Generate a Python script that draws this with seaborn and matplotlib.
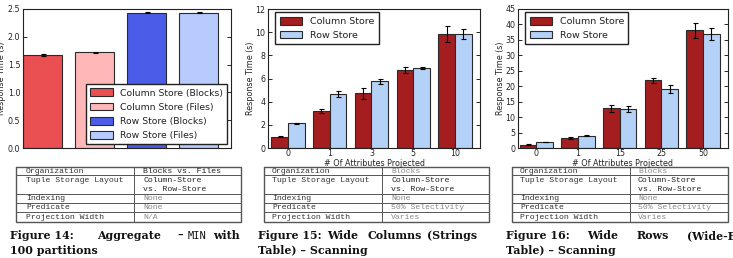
import matplotlib
matplotlib.use("Agg")
import matplotlib.pyplot as plt
from matplotlib.ticker import FormatStrFormatter
import seaborn as sns
import pandas as pd

# ---------------- data ----------------
agg_configs = ["Column Store (Blocks)", "Column Store (Files)", "Row Store (Blocks)", "Row Store (Files)"]
agg_times = [1.67, 1.72, 2.435, 2.435]
agg_errs = [0.012, 0.012, 0.004, 0.004]

stores = ["Column Store", "Row Store"]

wc_attrs = ["0", "1", "3", "5", "10"]
wc_col = [0.98, 3.21, 4.71, 6.71, 9.83]
wc_col_err = [0.04, 0.16, 0.50, 0.25, 0.72]
wc_row = [2.14, 4.63, 5.75, 6.91, 9.83]
wc_row_err = [0.03, 0.27, 0.23, 0.12, 0.45]

wr_attrs = ["0", "1", "15", "25", "50"]
wr_col = [1.08, 3.10, 12.8, 21.9, 38.1]
wr_col_err = [0.12, 0.30, 1.0, 0.8, 2.5]
wr_row = [1.95, 4.00, 12.6, 19.0, 36.9]
wr_row_err = [0.10, 0.20, 1.0, 1.3, 1.8]

y_label = "Response Time (s)"
x_label = "# Of Attributes Projected"

table_keys = ["Organization", "Tuple Storage Layout", "Indexing", "Predicate", "Projection Width"]
fig14_vals = ["Blocks vs. Files", "Column-Store\nvs. Row-Store", "None", "None", "N/A"]
fig14_dark = [True, True, False, False, False]
fig15_vals = ["Blocks", "Column-Store\nvs. Row-Store", "None", "50% Selectivity", "Varies"]
fig15_dark = [False, True, False, False, False]
fig16_vals = ["Blocks", "Column-Store\nvs. Row-Store", "None", "50% Selectivity", "Varies"]
fig16_dark = [False, True, False, False, False]

cap14_l1 = [("Figure 14:", 10, "serif"), ("Aggregate", 97, "serif"), ("\u2013", 177, "serif"),
            ("MIN", 188, "mono"), ("with", 213, "serif")]
cap14_l2 = [("100 partitions", 10, "serif")]
cap15_l1 = [("Figure 15:", 258, "serif"), ("Wide", 327, "serif"), ("Columns", 367, "serif"),
            ("(Strings", 427, "serif")]
cap15_l2 = [("Table) \u2013 Scanning", 258, "serif")]
cap16_l1 = [("Figure 16:", 506, "serif"), ("Wide", 587, "serif"), ("Rows", 637, "serif"),
            ("(Wide-E", 687, "serif")]
cap16_l2 = [("Table) \u2013 Scanning", 506, "serif")]

# ---------------- style ----------------
agg_colors = ["#EA4F52", "#FFB7B7", "#4B5DE8", "#B8CBFF"]
store_colors = ["#A41D1F", "#B4D1F7"]
edge = "#2a2a2a"

sns.set_style("ticks", {"xtick.direction": "in", "ytick.direction": "in",
                        "axes.edgecolor": "#222222"})
plt.rcParams.update({
    "font.family": ["DejaVu Sans"],
    "ytick.right": True,
    "ytick.major.size": 3,
    "ytick.major.width": 0.7,
    "xtick.major.size": 0,
    "axes.linewidth": 0.8,
    "ytick.labelsize": 5.7,
    "xtick.labelsize": 5.7,
    "axes.labelsize": 5.8,
    "ytick.major.pad": 2,
    "xtick.major.pad": 0.8,
    "text.color": "#222222",
    "ytick.labelcolor": "#222222",
    "xtick.labelcolor": "#222222",
})

W, H = 733, 258
fig = plt.figure(figsize=(W / 100, H / 100), dpi=100, facecolor="white")

# overlay for tables/captions (pixel coordinates)
ov = fig.add_axes([0, 0, 1, 1])
ov.set_xlim(0, W)
ov.set_ylim(H, 0)
ov.axis("off")
ov.patch.set_visible(False)


def px_axes(l, r, t, b):
    return fig.add_axes([l / W, 1 - b / H, (r - l) / W, (b - t) / H])


ax1 = px_axes(23, 231, 9, 148)
ax2 = px_axes(268, 480, 9, 148)
ax3 = px_axes(518, 728, 9, 148)

# ---- Figure 14 ----
df1 = pd.DataFrame({"config": agg_configs, "time": agg_times})
sns.barplot(data=df1, x="config", y="time", hue="config", order=agg_configs,
            hue_order=agg_configs, palette=agg_colors, saturation=1, width=0.75,
            errorbar=None, edgecolor=edge, linewidth=0.8, legend=False, ax=ax1)
conts = list(ax1.containers)
for i, c in enumerate(conts):
    xs = [p.get_x() + p.get_width() / 2 for p in c]
    ys = [p.get_height() for p in c]
    ax1.errorbar(xs, ys, yerr=[agg_errs[i]] * len(xs), fmt="none", ecolor="black",
                 elinewidth=0.8, capsize=1.8, capthick=0.8)
ax1.set_xlim(-0.375, 3.625)
ax1.set_ylim(0, 2.5)
ax1.set_yticks([0, 0.5, 1.0, 1.5, 2.0, 2.5])
ax1.yaxis.set_major_formatter(FormatStrFormatter("%.1f"))
ax1.set_xticks([])
ax1.set_xlabel("")
ax1.set_ylabel(y_label, labelpad=1.5)
ax1.legend([c.patches[0] for c in conts], agg_configs, loc="lower right",
           fontsize=6.7, frameon=True, fancybox=False, framealpha=1,
           edgecolor="#222222", borderaxespad=0.4, handlelength=2.4,
           handleheight=0.9, labelspacing=0.55, borderpad=0.45, handletextpad=0.8)


def grouped(ax, attrs, col, col_err, row, row_err, ymax, ystep, xlim):
    df = pd.DataFrame({"attrs": attrs * 2,
                       "store": [stores[0]] * len(attrs) + [stores[1]] * len(attrs),
                       "time": col + row})
    sns.barplot(data=df, x="attrs", y="time", hue="store", order=attrs, hue_order=stores,
                palette=store_colors, saturation=1, width=0.8, errorbar=None,
                edgecolor=edge, linewidth=0.8, legend=False, ax=ax)
    errs = {stores[0]: col_err, stores[1]: row_err}
    cs = list(ax.containers)[:2]
    for c, st in zip(cs, stores):
        xs = [p.get_x() + p.get_width() / 2 for p in c]
        ys = [p.get_height() for p in c]
        es = [errs[st][int(round(x))] for x in xs]
        ax.errorbar(xs, ys, yerr=es, fmt="none", ecolor="black",
                    elinewidth=0.8, capsize=1.8, capthick=0.8)
    ax.set_xlim(*xlim)
    ax.set_ylim(0, ymax)
    ax.set_yticks(range(0, ymax + 1, ystep))
    ax.set_xlabel(x_label, labelpad=0.3)
    ax.set_ylabel(y_label, labelpad=0.5)
    ax.legend([c.patches[0] for c in cs], stores, loc="upper left",
              bbox_to_anchor=(0.035, 0.975), fontsize=6.8, frameon=True, fancybox=False,
              framealpha=1, edgecolor="#222222", borderaxespad=0.0, handlelength=2.4,
              handleheight=0.9, labelspacing=0.5, borderpad=0.45, handletextpad=0.8)


grouped(ax2, wc_attrs, wc_col, wc_col_err, wc_row, wc_row_err, 12, 2, (-0.48, 4.6))
grouped(ax3, wr_attrs, wr_col, wr_col_err, wr_row, wr_row_err, 45, 5, (-0.44, 4.6))

# ---------------- tables ----------------
row_bounds = [167, 175.3, 194, 203.2, 212.3, 221.8]
tab_font = "Liberation Mono"
tab_size = 5.9


def draw_table(left, right, div, key_x, val_x, vals, dark):
    ov.plot([left, right, right, left, left],
            [row_bounds[0], row_bounds[0], row_bounds[-1], row_bounds[-1], row_bounds[0]],
            color="#555555", lw=1.0, solid_joinstyle="miter")
    for yb in row_bounds[1:-1]:
        ov.plot([left, right], [yb, yb], color="#555555", lw=0.7)
    ov.plot([div, div], [row_bounds[0], row_bounds[-1]], color="#555555", lw=0.7)
    for i, (k, v, d) in enumerate(zip(table_keys, vals, dark)):
        top, bot = row_bounds[i], row_bounds[i + 1]
        lines = v.split("\n")
        if len(lines) == 1:
            ymid = (top + bot) / 2
            ov.text(key_x, ymid, k, fontsize=tab_size, family=tab_font, color="#333333",
                    va="center", ha="left")
            ov.text(val_x, ymid, v, fontsize=tab_size, family=tab_font,
                    color="#222222" if d else "#8a8a8a", va="center", ha="left")
        else:
            y1 = top + (bot - top) * 0.29
            y2 = top + (bot - top) * 0.74
            ov.text(key_x, y1, k, fontsize=tab_size, family=tab_font, color="#333333",
                    va="center", ha="left")
            for ln, yy in zip(lines, [y1, y2]):
                ov.text(val_x, yy, ln, fontsize=tab_size, family=tab_font,
                        color="#222222" if d else "#8a8a8a", va="center", ha="left")


draw_table(16, 241, 134, 26, 143, fig14_vals, fig14_dark)
draw_table(264, 489, 382, 272, 391, fig15_vals, fig15_dark)
draw_table(512, 728, 630, 520, 638, fig16_vals, fig16_dark)

# ---------------- captions ----------------
cap_size = 7.9


def caption(words, y):
    for txt, x, kind in words:
        if kind == "mono":
            ov.text(x, y, txt, fontsize=cap_size * 0.95, family="DejaVu Sans Mono",
                    color="#111111", va="baseline", ha="left")
        else:
            ov.text(x, y, txt, fontsize=cap_size, family="DejaVu Serif", weight="bold",
                    color="#111111", va="baseline", ha="left")


for l1, l2 in [(cap14_l1, cap14_l2), (cap15_l1, cap15_l2), (cap16_l1, cap16_l2)]:
    caption(l1, 239)
    caption(l2, 254)

fig.savefig("out.png", dpi=100, facecolor="white")
